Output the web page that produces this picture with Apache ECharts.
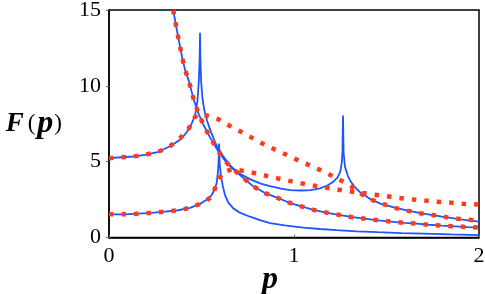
<!DOCTYPE html>
<html>
<head>
<meta charset="utf-8">
<script src="https://cdn.jsdelivr.net/npm/echarts@6/dist/echarts.min.js"></script>
<style>
html,body{margin:0;padding:0;background:#fff;}
#chart{width:485px;height:294px;}
</style>
</head>
<body>
<div id="chart"></div>
<script>
// ---- data (p, F) ----
var xTicks = [0, 1, 2];
var yTicks = [0, 5, 10, 15];

// blue: upper branch (cusp at p≈0.49, then cusp at p≈1.27)
var blueUpper = [
  [0,5.23],[0.07,5.29],[0.13,5.34],[0.195,5.45],[0.267,5.65],[0.33,6.02],[0.39,6.5],[0.42,6.94],
  [0.443,7.4],[0.465,8.04],[0.478,9.0],[0.486,10.4],[0.490,11.8],[0.492,13.5],
  [0.494,11.8],[0.498,10.3],[0.505,9.2],[0.515,8.4],[0.53,7.7],[0.55,7.0],[0.58,6.1],[0.62,5.3],
  [0.654,4.76],[0.70,4.25],[0.762,3.85],[0.82,3.55],[0.87,3.38],[0.93,3.22],[0.98,3.13],[1.04,3.1],
  [1.09,3.12],[1.14,3.24],[1.18,3.43],[1.21,3.65],[1.235,3.95],[1.25,4.35],[1.258,4.9],[1.262,5.7],
  [1.265,8.05],
  [1.268,5.6],[1.276,4.64],[1.29,4.1],[1.303,3.76],[1.33,3.3],[1.357,2.99],[1.41,2.55],[1.47,2.22],
  [1.54,1.98],[1.62,1.76],[1.70,1.57],[1.8,1.37],[1.9,1.2],[2.0,1.05]
];

// blue: lower branch (cusp at p≈0.6)
var blueLower = [
  [0,1.53],[0.086,1.53],[0.16,1.57],[0.23,1.63],[0.30,1.70],[0.366,1.78],[0.438,1.95],[0.49,2.2],
  [0.53,2.5],[0.555,2.8],[0.572,3.2],[0.582,3.6],[0.588,4.2],[0.592,4.9],[0.595,6.2],
  [0.598,4.9],[0.604,4.2],[0.615,3.4],[0.627,2.8],[0.645,2.3],[0.672,1.92],[0.71,1.62],[0.762,1.37],
  [0.82,1.13],[0.87,0.95],[0.95,0.8],[1.05,0.65],[1.14,0.56],[1.23,0.49],[1.34,0.41],[1.45,0.35],
  [1.58,0.29],[1.7,0.25],[1.85,0.2],[2.0,0.16]
];

// decaying curve (blue solid, also traced by red dots)
var decay = [
  [0.347,15],[0.368,13.6],[0.395,11.9],[0.41,11.1],[0.432,10.3],[0.46,9.0],[0.486,8.1],[0.514,7.35],
  [0.546,6.6],[0.59,5.7],[0.632,4.98],[0.665,4.58],[0.708,4.12],[0.778,3.39],[0.843,2.93],[0.908,2.63],
  [0.975,2.29],[1.045,2.03],[1.11,1.81],[1.18,1.63],[1.25,1.48],[1.317,1.34],[1.39,1.23],[1.456,1.13],
  [1.524,1.05],[1.595,0.97],[1.663,0.91],[1.73,0.84],[1.80,0.78],[1.87,0.74],[1.94,0.69],[2.0,0.66]
];

// red dotted approximations
var redUpper = [
  [0,5.23],[0.07,5.29],[0.13,5.34],[0.195,5.45],[0.267,5.65],[0.33,6.02],[0.384,6.55],[0.43,7.17],
  [0.465,7.95],[0.486,8.15],[0.531,8.04],[0.59,7.8],[0.654,7.35],[0.73,6.87],[0.793,6.43],[0.852,6.05],
  [0.915,5.7],[0.982,5.33],[1.045,4.96],[1.11,4.63],[1.173,4.27],[1.236,3.86],[1.297,3.5],[1.353,2.95],
  [1.41,2.52],[1.474,2.25],[1.542,1.96],[1.612,1.77],[1.68,1.6],[1.75,1.48],[1.82,1.35],[1.888,1.24],
  [1.96,1.15],[2.0,1.1]
];
var redLower = [
  [0,1.53],[0.086,1.53],[0.16,1.57],[0.23,1.63],[0.30,1.70],[0.366,1.78],[0.438,1.95],[0.51,2.3],
  [0.555,2.69],[0.582,3.5],[0.612,4.27],[0.663,4.5],[0.735,4.38],[0.804,4.2],[0.874,3.99],[0.942,3.82],
  [1.01,3.64],[1.074,3.5],[1.146,3.33],[1.218,3.2],[1.285,3.07],[1.353,2.96],[1.42,2.85],[1.49,2.74],
  [1.56,2.62],[1.63,2.52],[1.70,2.45],[1.77,2.36],[1.84,2.3],[1.91,2.23],[2.0,2.17]
];

var BLUE = '#1f55ff';
var RED = '#ff3b1c';
var serif = 'Liberation Serif';

function blueSeries(d){
  return {type:'line', data:d, showSymbol:false, smooth:false, clip:true,
    lineStyle:{color:BLUE, width:1.8}, z:2};
}
function redSeries(d){
  return {type:'line', data:d, showSymbol:false, smooth:false, clip:true,
    lineStyle:{color:RED, width:4.5, type:[4.5,8], cap:'butt'}, z:3};
}

var chart = echarts.init(document.getElementById('chart'), null, {renderer:'canvas'});
chart.setOption({
  animation:false,
  backgroundColor:'#fff',
  grid:{left:109, right:6, top:10, bottom:56.5, containLabel:false, outerBoundsMode:'none',
        show:true, borderColor:'#000', borderWidth:1.5, backgroundColor:'transparent'},
  xAxis:{
    type:'value', min:xTicks[0], max:xTicks[xTicks.length-1], interval:1,
    name:'p', nameLocation:'middle', nameGap:26, nameMoveOverlap:false,
    nameTextStyle:{fontFamily:serif, fontWeight:'bold', fontStyle:'italic', fontSize:32, color:'#000', padding:[0,48,0,0]},
    axisLine:{show:true, onZero:false, lineStyle:{color:'#000', width:1.5}},
    axisTick:{show:true, inside:true, length:3, lineStyle:{color:'#666', width:1}},
    splitLine:{show:false},
    axisLabel:{fontFamily:serif, fontSize:22, color:'#000', margin:8}
  },
  yAxis:{
    type:'value', min:yTicks[0], max:yTicks[yTicks.length-1], interval:5,
    name:'{f|F}{s|(}{p|p}{s|)}', nameLocation:'middle', nameGap:47, nameRotate:0, nameMoveOverlap:false,
    nameTextStyle:{rich:{
      f:{fontFamily:serif, fontWeight:'bold', fontStyle:'italic', fontSize:27, color:'#000', padding:[0,4,0,0]},
      p:{fontFamily:serif, fontWeight:'bold', fontStyle:'italic', fontSize:32, color:'#000', padding:[0,1,0,2]},
      s:{fontFamily:serif, fontSize:23, color:'#000'}
    }},
    axisLine:{show:true, onZero:false, lineStyle:{color:'#000', width:1.5}},
    axisTick:{show:true, inside:false, length:3, lineStyle:{color:'#666', width:1}},
    splitLine:{show:false},
    axisLabel:{fontFamily:serif, fontSize:22, color:'#000', margin:8}
  },
  series:[
    blueSeries(blueUpper),
    blueSeries(blueLower),
    blueSeries(decay),
    redSeries(redUpper),
    redSeries(decay),
    redSeries(redLower)
  ]
});
</script>
</body>
</html>
